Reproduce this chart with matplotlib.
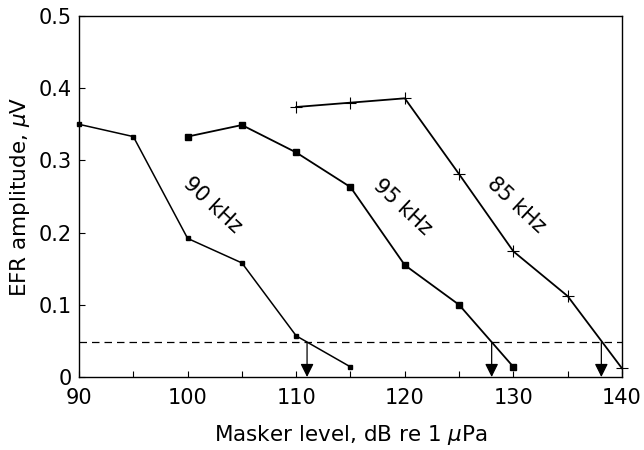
import matplotlib
matplotlib.use("Agg")
import matplotlib.pyplot as plt
from matplotlib.ticker import MultipleLocator

plt.rcParams['font.family'] = ['DejaVu Sans']
plt.rcParams['mathtext.fontset'] = 'dejavusans'

# Data
x90 = [90, 95, 100, 105, 110, 115]
y90 = [0.350, 0.333, 0.192, 0.158, 0.057, 0.014]
x95 = [100, 105, 110, 115, 120, 125, 130]
y95 = [0.333, 0.349, 0.311, 0.263, 0.155, 0.100, 0.014]
x85 = [110, 115, 120, 125, 130, 135, 140]
y85 = [0.374, 0.380, 0.386, 0.281, 0.174, 0.112, 0.012]
criterion = 0.048
thresholds = [111.0, 128.0, 138.1]
labels = ["90 kHz", "95 kHz", "85 kHz"]
label_x = [102.3, 119.8, 130.3]
label_y = [0.238, 0.235, 0.238]

fig = plt.figure(figsize=(6.44, 4.5), dpi=100)
ax = fig.add_axes([0.1227, 0.1622, 0.8431, 0.8022])

ax.plot(x90, y90, color='black', lw=1.1, marker='s', ms=2.2, clip_on=False)
ax.plot(x95, y95, color='black', lw=1.3, marker='s', ms=5, clip_on=False)
ax.plot(x85, y85, color='black', lw=1.3, marker='+', ms=9, mew=0.8, clip_on=False)

ax.axhline(criterion, color='black', lw=0.9, ls=(0, (6, 4)))

for t in thresholds:
    ax.annotate('', xy=(t, 0), xytext=(t, criterion),
                arrowprops=dict(arrowstyle='-|>,head_length=0.8,head_width=0.4',
                                color='black', lw=0.9, shrinkA=0, shrinkB=0,
                                mutation_scale=10))

for lab, lx, ly in zip(labels, label_x, label_y):
    ax.text(lx, ly, lab, rotation=-43, ha='center', va='center', fontsize=15)

ax.set_xlim(90, 140)
ax.set_ylim(0, 0.5)
ax.xaxis.set_major_locator(MultipleLocator(10))
ax.xaxis.set_minor_locator(MultipleLocator(5))
ax.set_yticks([0, 0.1, 0.2, 0.3, 0.4, 0.5])
ax.set_yticklabels(['0', '0.1', '0.2', '0.3', '0.4', '0.5'])
ax.tick_params(which='both', direction='in', length=4, width=0.8, labelsize=15, pad=5)
ax.tick_params(axis='x', pad=8)
for s in ax.spines.values():
    s.set_linewidth(1.0)

ax.set_xlabel(r'Masker level, dB re 1 $\mu$Pa', fontsize=15.5, labelpad=11)
ax.set_ylabel(r'EFR amplitude, $\mu$V', fontsize=15.5, labelpad=5)

fig.savefig('out.png', dpi=100)
